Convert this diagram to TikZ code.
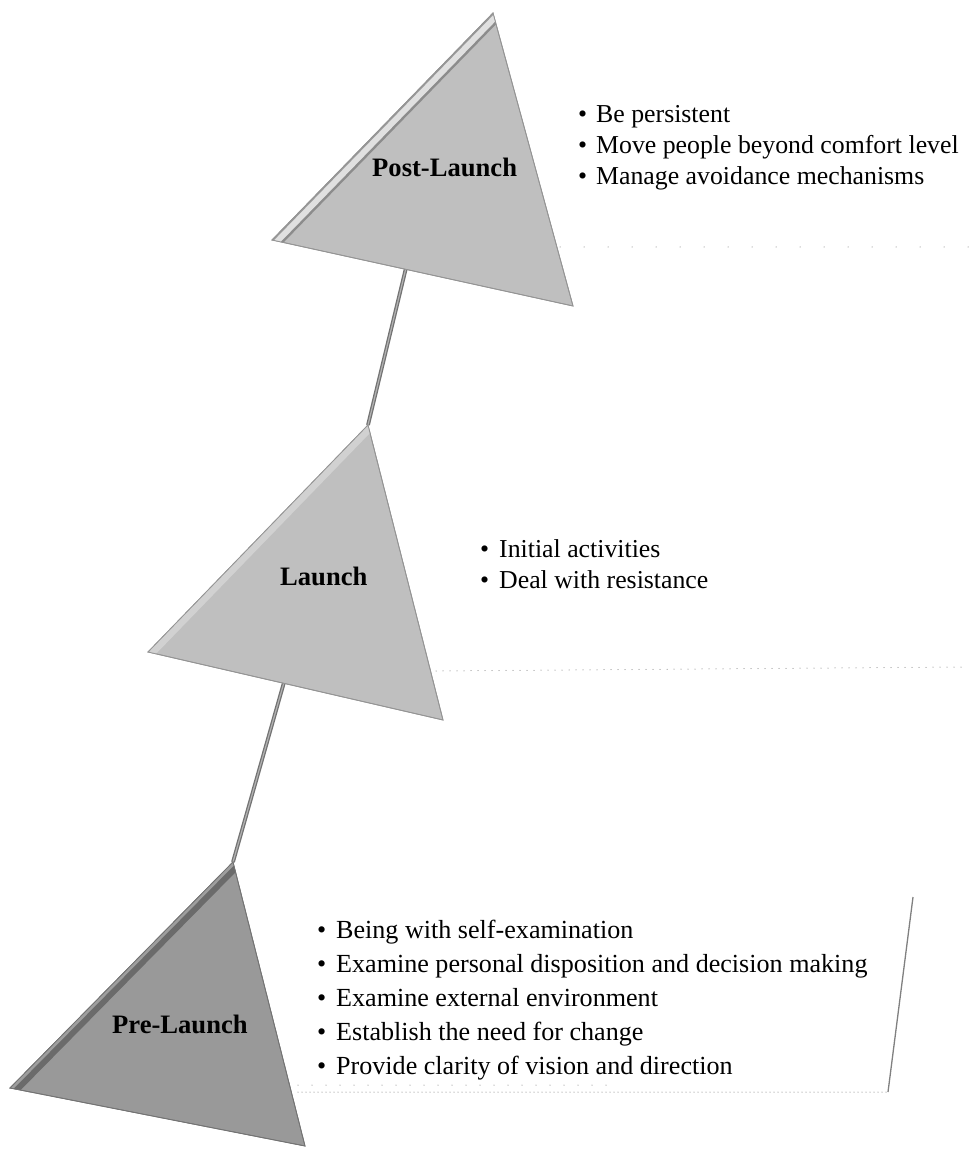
\documentclass[tikz,border=0pt]{standalone}
\usepackage{fontspec}
\setmainfont{Liberation Serif}
\begin{document}
\begin{tikzpicture}[x=1pt,y=-1pt,
  stagelight/.style={fill=black!25, draw=black!42, line width=0.8pt},
  stagedark/.style={fill=black!40, draw=black!55, line width=0.8pt},
  link/.style={draw=black!55, line width=3.8pt},
  label/.style={anchor=base west, inner sep=0pt, font=\bfseries\fontsize{26.6}{30}\selectfont},
  item/.style={anchor=base west, inner sep=0pt, font=\fontsize{25.8}{30}\selectfont},
  rule/.style={draw=black!60, line width=1pt, line cap=round}
]
\useasboundingbox (0,0) rectangle (970,1150);

% corner points of the three stages
\coordinate (A1) at (493,13);  \coordinate (L1) at (272,240);  \coordinate (R1) at (573,306);
\coordinate (A2) at (368,425); \coordinate (L2) at (148,652);  \coordinate (R2) at (443,720);
\coordinate (A3) at (233,862); \coordinate (L3) at (10,1088);  \coordinate (R3) at (305,1146);

% stems joining the stages (drawn first, the triangles cover their upper ends)
\coordinate (c1) at (420,210);
\coordinate (c2) at (296,640);
\draw[link] (c1) -- (A2);
\draw[link] (c2) -- (A3);
\draw[draw=black!30, line width=1.2pt] (c1) -- (A2);
\draw[draw=black!30, line width=1.2pt] (c2) -- (A3);

% Post-Launch stage with bevelled left edge
\fill[stagelight] (A1) -- (L1) -- (R1) -- cycle;
\begin{scope}
  \clip (A1) -- (L1) -- (R1) -- cycle;
  \draw[black!45, line width=20pt] (L1) -- (A1);
  \draw[black!12, line width=15pt] (L1) -- (A1);
  \draw[black!40, line width=3pt] (L1) -- (A1);
\end{scope}
\draw[black!42, line width=0.8pt] (A1) -- (L1) -- (R1) -- cycle;

% Launch stage
\fill[stagelight] (A2) -- (L2) -- (R2) -- cycle;
\begin{scope}
  \clip (A2) -- (L2) -- (R2) -- cycle;
  \draw[black!18, line width=14pt] (L2) -- (A2);
\end{scope}
\draw[black!42, line width=0.8pt] (A2) -- (L2) -- (R2) -- cycle;

% Pre-Launch stage
\fill[stagedark] (A3) -- (L3) -- (R3) -- cycle;
\begin{scope}
  \clip (A3) -- (L3) -- (R3) -- cycle;
  \draw[black!58, line width=18pt] (L3) -- (A3);
  \draw[black!38, line width=6pt] (L3) -- (A3);
\end{scope}
\draw[black!55, line width=0.8pt] (A3) -- (L3) -- (R3) -- cycle;

% stage names
\node[label] (post) at (372,177) {Post-Launch};
\node[label] (launch) at (280,585) {Launch};
\node[label] (pre) at (112,1033) {Pre-Launch};

% activity lists
\foreach \t [count=\i] in {Be persistent, Move people beyond comfort level, Manage avoidance mechanisms}
  \node[item] (postitem\i) at (578,{123+31*(\i-1)}) {\makebox[18pt][l]{\textbullet}\t};

\foreach \t [count=\i] in {Initial activities, Deal with resistance}
  \node[item] (launchitem\i) at (480,{557+31*(\i-1)}) {\makebox[19pt][l]{\textbullet}\t};

\foreach \t [count=\i] in {Being with self-examination, Examine personal disposition and decision making, Examine external environment, Establish the need for change, Provide clarity of vision and direction}
  \node[item, font=\fontsize{26.1}{30}\selectfont] (preitem\i) at (317,{938+34*(\i-1)}) {\makebox[19pt][l]{\textbullet}\t};

% dotted base rules under the lists
\coordinate (p1a) at (560,247); \coordinate (p1b) at (968,247);
\draw[rule, dash pattern=on 0pt off 24pt] (p1a) -- (p1b);
\coordinate (p2a) at (436,671); \coordinate (p2b) at (962,667);
\draw[rule, dash pattern=on 0pt off 7pt] (p2a) -- (p2b);
\coordinate (p3a) at (298,1092); \coordinate (p3b) at (888,1092);
\coordinate (p3c) at (913,897);
\draw[rule, dash pattern=on 0pt off 4pt] (p3a) -- (p3b);
\coordinate (p3d) at (298,1085); \coordinate (p3e) at (620,1085);
\draw[rule, dash pattern=on 0pt off 14pt] (p3d) -- (p3e);
\draw[draw=black!50, line width=1.3pt] (p3b) -- (p3c);
\end{tikzpicture}
\end{document}
